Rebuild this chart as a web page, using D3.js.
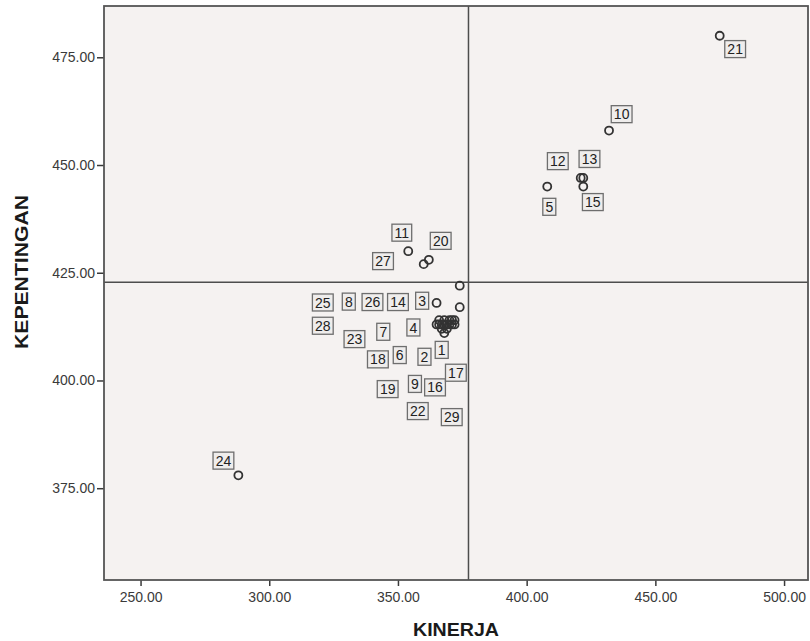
<!DOCTYPE html>
<html>
<head>
    <meta charset="utf-8">
    <style>
        body {
            margin: 0;
            background: #ffffff;
        }

        svg {
            display: block;
        }

        .tick text {
            font-family: 'Liberation Sans', Arial, sans-serif;
            font-size: 14px;
            fill: #3a3a3a;
        }

        .axis-title {
            font-family: 'Liberation Sans', Arial, sans-serif;
            font-size: 18px;
            font-weight: bold;
            fill: #1a1a1a;
        }

        .pt-label {
            font-family: 'Liberation Sans', Arial, sans-serif;
            font-size: 14px;
            fill: #222222;
        }
    </style>
</head>

<body>
    <svg width="810" height="641"></svg>
</body>

<script src="https://d3js.org/d3.v7.min.js"></script>

<script>
    // case numbers, one per respondent item
    let ids = [1, 2, 3, 4, 5, 6, 7, 8, 9, 10,
        11, 12, 13, 14, 15, 16, 17, 18, 19, 20,
        21, 22, 23, 24, 25, 26, 27, 28, 29];

    // KINERJA (x) and KEPENTINGAN (y) totals
    let kinerja = [366, 368, 365, 370, 408, 372, 365, 367, 369, 432,
        354, 421, 422, 371, 422, 372, 374, 366, 368, 362,
        475, 370, 367, 288, 369, 368, 360, 371, 374];
    let kepentingan = [414, 414, 418, 414, 445, 414, 413, 413, 413, 458,
        430, 447, 447, 413, 445, 413, 422, 413, 413, 428,
        480, 413, 412, 378, 412, 411, 427, 414, 417];

    // where SPSS dropped each case label (in data units)
    let labelX = [367.0, 360.3, 359.4, 356.0, 408.8, 350.7, 344.3, 330.9, 356.6, 436.9,
        351.5, 412.1, 424.4, 350.0, 425.7, 364.4, 372.5, 342.2, 346.0, 366.6,
        481.0, 357.7, 333.1, 282.2, 320.8, 340.1, 344.2, 320.8, 370.9];
    let labelY = [407.1, 405.5, 418.5, 412.3, 440.3, 405.9, 411.3, 418.3, 399.2, 461.8,
        434.3, 450.9, 451.4, 418.2, 441.4, 398.4, 401.8, 404.9, 398.0, 432.4,
        476.9, 392.9, 409.6, 381.4, 418.1, 418.2, 427.7, 412.7, 391.5];

    // reference lines (means)
    let meanKinerja = 377.4;
    let meanKepentingan = 422.8;

    let xTicks = [250, 300, 350, 400, 450, 500];
    let yTicks = [375, 400, 425, 450, 475];

    let data = ids.map((id, i) => ({
        id: id,
        x: kinerja[i],
        y: kepentingan[i],
        lx: labelX[i],
        ly: labelY[i]
    }));

    let frame = { left: 104, top: 6, right: 808, bottom: 580 };
    let svg = d3.select("svg");

    let x = d3.scaleLinear()
        .domain([235.8, 509.3])
        .range([frame.left, frame.right]);

    let y = d3.scaleLinear()
        .domain([353.7, 486.9])
        .range([frame.bottom, frame.top]);

    // plot background
    svg.append("rect")
        .attr("x", frame.left)
        .attr("y", frame.top)
        .attr("width", frame.right - frame.left)
        .attr("height", frame.bottom - frame.top)
        .style("fill", "#f5f2f1")
        .style("stroke", "none");

    // reference lines
    svg.append("line")
        .attr("x1", x(meanKinerja))
        .attr("x2", x(meanKinerja))
        .attr("y1", frame.top)
        .attr("y2", frame.bottom)
        .style("stroke", "#4d4d4d")
        .style("stroke-width", 1.5);

    svg.append("line")
        .attr("x1", frame.left)
        .attr("x2", frame.right)
        .attr("y1", y(meanKepentingan))
        .attr("y2", y(meanKepentingan))
        .style("stroke", "#4d4d4d")
        .style("stroke-width", 1.5);

    // axes
    let xAxis = svg.append("g")
        .attr("transform", "translate(0," + frame.bottom + ")")
        .call(d3.axisBottom(x)
            .tickValues(xTicks)
            .tickFormat(d3.format(".2f"))
            .tickSize(6)
            .tickSizeOuter(0)
            .tickPadding(6));

    let yAxis = svg.append("g")
        .attr("transform", "translate(" + frame.left + ",0)")
        .call(d3.axisLeft(y)
            .tickValues(yTicks)
            .tickFormat(d3.format(".2f"))
            .tickSize(7)
            .tickSizeOuter(0)
            .tickPadding(2));

    svg.selectAll(".domain").remove();
    svg.selectAll(".tick line")
        .style("stroke", "#3a3a3a")
        .style("stroke-width", 1.5);

    // frame
    svg.append("rect")
        .attr("x", frame.left)
        .attr("y", frame.top)
        .attr("width", frame.right - frame.left)
        .attr("height", frame.bottom - frame.top)
        .style("fill", "none")
        .style("stroke", "#555555")
        .style("stroke-width", 1.8);

    // points
    svg.selectAll(".pt")
        .data(data)
        .join("circle")
        .attr("class", "pt")
        .attr("cx", d => x(d.x))
        .attr("cy", d => y(d.y))
        .attr("r", 4)
        .style("fill", "none")
        .style("stroke", "#333333")
        .style("stroke-width", 1.8);

    // case labels in little boxes
    let labels = svg.selectAll(".lab")
        .data(data)
        .join("g")
        .attr("class", "lab")
        .attr("transform", d => "translate(" + x(d.lx) + "," + y(d.ly) + ")");

    labels.append("text")
        .attr("class", "pt-label")
        .attr("text-anchor", "middle")
        .attr("dy", "0.36em")
        .text(d => d.id);

    labels.each(function () {
        let g = d3.select(this);
        let bb = g.select("text").node().getBBox();
        g.insert("rect", "text")
            .attr("x", -bb.width / 2 - 2.5)
            .attr("y", -8.5)
            .attr("width", bb.width + 5)
            .attr("height", 17)
            .style("fill", "#efedec")
            .style("stroke", "#6e6e6e")
            .style("stroke-width", 1.3);
    });

    // axis titles
    svg.append("text")
        .attr("class", "axis-title")
        .attr("x", (frame.left + frame.right) / 2)
        .attr("y", 636)
        .attr("text-anchor", "middle")
        .attr("textLength", 86)
        .attr("lengthAdjust", "spacingAndGlyphs")
        .text("KINERJA");

    svg.append("text")
        .attr("class", "axis-title")
        .attr("transform", "translate(28," + 272 + ") rotate(-90)")
        .attr("text-anchor", "middle")
        .attr("textLength", 154)
        .attr("lengthAdjust", "spacingAndGlyphs")
        .text("KEPENTINGAN");
</script>
</html>
